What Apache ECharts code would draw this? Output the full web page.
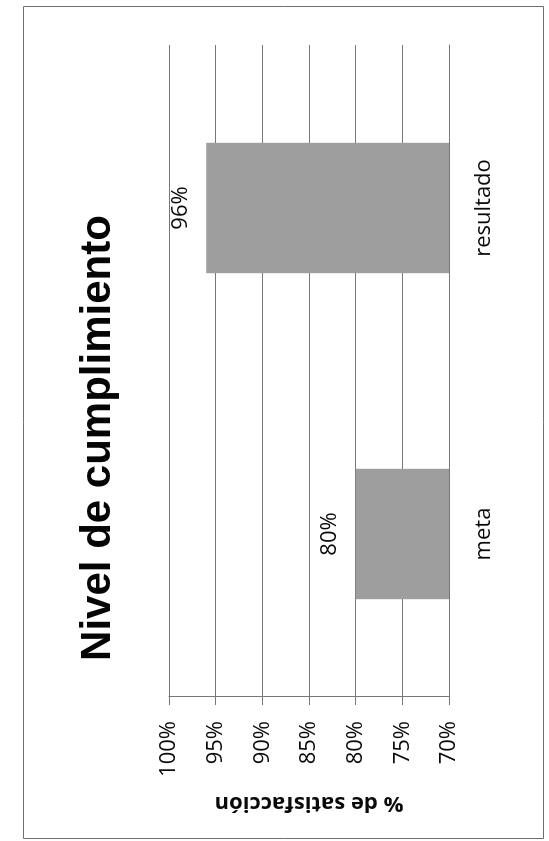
<!DOCTYPE html>
<html>
<head>
<meta charset="utf-8">
<script src="https://cdn.jsdelivr.net/npm/echarts@6/dist/echarts.min.js"></script>
<style>
  html, body { margin: 0; padding: 0; background: #ffffff; overflow: hidden; width: 549px; height: 841px; }
  #chart {
    position: absolute; left: 0; top: 0;
    width: 841px; height: 549px;
    transform-origin: 0 0;
    transform: translate(0px, 841px) rotate(-90deg);
  }
</style>
</head>
<body>
<div id="chart"></div>
<script>
// ---- data ----
var categories = ['meta', 'resultado'];
var values = [80, 96];
var axisMin = 70;
var axisMax = 100;
var axisInterval = 5;
var titleText = 'Nivel de cumplimiento';
var axisTitle = '% de satisfacción';

var chart = echarts.init(document.getElementById('chart'));
var labelFont = '"Open Sans", "Noto Sans", sans-serif';
var lineColor = '#777777';

chart.setOption({
  animation: false,
  backgroundColor: '#ffffff',
  title: {
    text: titleText,
    left: 398,
    top: 72,
    textAlign: 'center',
    textStyle: {
      fontFamily: '"Liberation Sans", Arial, sans-serif',
      fontWeight: 'bold',
      fontSize: 42,
      color: '#050505'
    }
  },
  graphic: [{
    type: 'rect',
    shape: { x: 2.5, y: 23.5, width: 832, height: 520 },
    style: { fill: 'none', stroke: '#6f6f6f', lineWidth: 1 },
    silent: true
  }],
  grid: { left: 144, right: 45, top: 169, bottom: 100, containLabel: false },
  xAxis: {
    type: 'category',
    data: categories,
    axisLine: { show: true, lineStyle: { color: lineColor, width: 1 } },
    axisTick: { show: false },
    axisLabel: { margin: 24, fontSize: 22, fontFamily: labelFont, color: '#0a0a0a' }
  },
  yAxis: {
    type: 'value',
    min: axisMin,
    max: axisMax,
    interval: axisInterval,
    name: axisTitle,
    nameLocation: 'middle',
    nameRotate: 90,
    nameGap: 95,
    nameTextStyle: { fontSize: 22, fontWeight: 'bold', fontFamily: labelFont, color: '#0a0a0a' },
    axisLine: { show: true, lineStyle: { color: lineColor, width: 1 } },
    axisTick: { show: true, inside: false, length: 8, lineStyle: { color: lineColor, width: 1 } },
    splitLine: { show: true, lineStyle: { color: lineColor, width: 1 } },
    axisLabel: {
      margin: 24, fontSize: 22, fontFamily: labelFont, color: '#0a0a0a',
      formatter: '{value}%'
    }
  },
  series: [{
    type: 'bar',
    data: values,
    barWidth: '40%',
    itemStyle: { color: '#9e9e9e' },
    label: {
      show: true,
      position: 'top',
      distance: 15,
      formatter: '{c}%',
      fontSize: 22,
      fontFamily: labelFont,
      color: '#0a0a0a'
    }
  }]
});
</script>
</body>
</html>
